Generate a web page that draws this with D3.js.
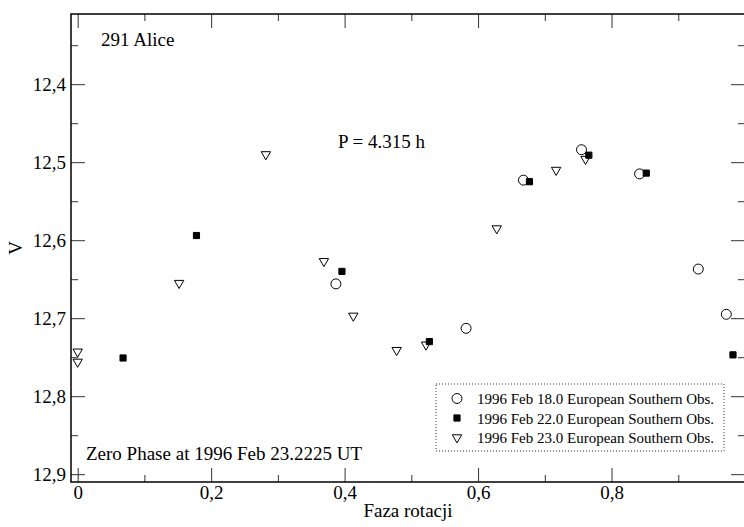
<!DOCTYPE html>
<html>
<head>
<meta charset="utf-8">
<script src="https://cdn.jsdelivr.net/npm/d3@7"></script>
<style>
  body { margin: 0; background: #fff; }
  svg { display: block; font-family: "Liberation Serif", "DejaVu Serif", serif; }
</style>
</head>
<body>
<svg width="744" height="527"></svg>
<script>
// Data
const phaseFeb18 = [0.387, 0.582, 0.668, 0.755, 0.842, 0.930, 0.972];
const magFeb18 = [12.656, 12.713, 12.523, 12.484, 12.515, 12.637, 12.695];

const phaseFeb22 = [0.068, 0.178, 0.396, 0.527, 0.677, 0.766, 0.852, 0.982];
const magFeb22 = [12.751, 12.594, 12.640, 12.730, 12.525, 12.491, 12.514, 12.747];

const phaseFeb23 = [0.0, 0.0, 0.152, 0.282, 0.369, 0.413, 0.478, 0.522, 0.628, 0.717, 0.761];
const magFeb23 = [12.743, 12.756, 12.655, 12.490, 12.627, 12.697, 12.741, 12.734, 12.585, 12.510, 12.496];

const seriesNames = [
  "1996 Feb 18.0 European Southern Obs.",
  "1996 Feb 22.0 European Southern Obs.",
  "1996 Feb 23.0 European Southern Obs."
];

const xMajor = [0, 0.2, 0.4, 0.6, 0.8, 1.0];
const xMinor = [0.1, 0.3, 0.5, 0.7, 0.9];
const yMajor = [12.4, 12.5, 12.6, 12.7, 12.8, 12.9];
const yMinor = [12.35, 12.45, 12.55, 12.65, 12.75, 12.85];

// Layout (plot frame edges; right edge sits just past the picture)
const plotL = 71, plotR = 745, plotT = 14, plotB = 482;
const svg = d3.select("svg");

const x = d3.scaleLinear().domain([-0.01, 1.0]).range([plotL, plotR]);
const y = d3.scaleLinear().domain([12.31, 12.91]).range([plotT, plotB]);

// comma decimals; the x label for 1.0 falls off the page, so leave it blank
const comma = d => d3.format(".1f")(d).replace(".", ",");
const fmtX = d => d === 0 ? "0" : d >= 1 ? "" : comma(d);
const fmtY = comma;

// Axes: ticks point inward on all four sides
const addAxis = (axis, transform, cls) => {
  const g = svg.append("g").attr("class", cls).attr("transform", transform).call(axis);
  g.select(".domain").remove();
  g.selectAll(".tick line").attr("stroke", "#333").attr("stroke-width", 1);
  g.selectAll("text").attr("font-size", 19).attr("font-family", "Liberation Serif").attr("fill", "#000");
  return g;
};

addAxis(d3.axisBottom(x).tickValues(xMajor).tickSize(-14).tickPadding(4).tickFormat(fmtX), `translate(0,${plotB})`, "x-axis");
addAxis(d3.axisBottom(x).tickValues(xMinor).tickSize(-7).tickFormat(""), `translate(0,${plotB})`, "x-minor");
addAxis(d3.axisTop(x).tickValues(xMajor).tickSize(-14).tickFormat(""), `translate(0,${plotT})`, "x-top");
addAxis(d3.axisTop(x).tickValues(xMinor).tickSize(-7).tickFormat(""), `translate(0,${plotT})`, "x-top-minor");

addAxis(d3.axisLeft(y).tickValues(yMajor).tickSize(-14).tickPadding(5).tickFormat(fmtY), `translate(${plotL},0)`, "y-axis");
addAxis(d3.axisLeft(y).tickValues(yMinor).tickSize(-7).tickFormat(""), `translate(${plotL},0)`, "y-minor");
addAxis(d3.axisRight(y).tickValues(yMajor).tickSize(-14).tickFormat(""), `translate(${plotR},0)`, "y-right");
addAxis(d3.axisRight(y).tickValues(yMinor).tickSize(-7).tickFormat(""), `translate(${plotR},0)`, "y-right-minor");

// Frame
svg.append("rect")
  .attr("x", plotL).attr("y", plotT)
  .attr("width", plotR - plotL).attr("height", plotB - plotT)
  .attr("fill", "none").attr("stroke", "#000").attr("stroke-width", 1.5);

// Markers
const circleSym = d3.symbol(d3.symbolCircle, 78);
const squareSym = d3.symbol(d3.symbolSquare, 38);
const triSym = d3.symbol(d3.symbolTriangle, 38);

const markers = [
  { path: circleSym, fill: "none", rot: 0 },
  { path: squareSym, fill: "#000", rot: 0 },
  { path: triSym, fill: "none", rot: 180 }
];

const drawSeries = (phases, mags, m) => {
  svg.append("g").selectAll("path")
    .data(d3.zip(phases, mags))
    .enter().append("path")
    .attr("d", m.path())
    .attr("transform", d => `translate(${x(d[0])},${y(d[1])}) rotate(${m.rot})`)
    .attr("fill", m.fill)
    .attr("stroke", "#000")
    .attr("stroke-width", 1);
};

drawSeries(phaseFeb18, magFeb18, markers[0]);
drawSeries(phaseFeb22, magFeb22, markers[1]);
drawSeries(phaseFeb23, magFeb23, markers[2]);

// Annotations
svg.append("text").attr("x", 101).attr("y", 46).attr("font-size", 19).text("291 Alice");
svg.append("text").attr("x", 338).attr("y", 148).attr("font-size", 19).text("P = 4.315 h");
svg.append("text").attr("x", 86).attr("y", 460).attr("font-size", 19).text("Zero Phase at 1996 Feb 23.2225 UT");

// Axis titles
svg.append("text")
  .attr("x", (plotL + plotR) / 2).attr("y", 517)
  .attr("text-anchor", "middle").attr("font-size", 19)
  .text("Faza rotacji");
svg.append("text")
  .attr("transform", `translate(22,${(plotT + plotB) / 2}) rotate(-90)`)
  .attr("text-anchor", "middle").attr("font-size", 19)
  .text("V");

// Legend
const legend = svg.append("g");
legend.append("rect")
  .attr("x", 436).attr("y", 384).attr("width", 288).attr("height", 67)
  .attr("fill", "#fff").attr("stroke", "#000").attr("stroke-width", 0.8)
  .attr("stroke-dasharray", "1,2");

seriesNames.forEach((name, i) => {
  const cy = 398.5 + i * 19.5;
  const m = markers[i];
  legend.append("path")
    .attr("d", m.path())
    .attr("transform", `translate(457,${cy}) rotate(${m.rot})`)
    .attr("fill", m.fill).attr("stroke", "#000").attr("stroke-width", 1);
  legend.append("text")
    .attr("x", 477).attr("y", cy + 5.5)
    .attr("font-size", 15)
    .text(name);
});
</script>
</body>
</html>
